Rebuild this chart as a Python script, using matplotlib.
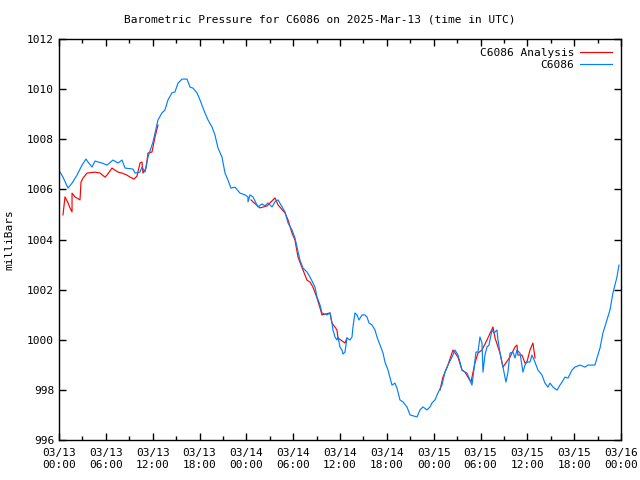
import numpy as np
import matplotlib
matplotlib.use("Agg")
import matplotlib.pyplot as plt
from matplotlib.ticker import MultipleLocator
import datetime as dt

# hours since 2025-03-13 00:00 UTC, pressure in mb
obs_hours = [0.13, 0.51, 1.15, 1.67, 2.31, 2.95, 3.46, 3.72, 4.23, 4.61, 5.51, 6.15, 6.92, 7.56, 8.07, 8.46,
             9.48, 9.74, 10.38, 10.63, 11.02, 11.40, 12.04, 12.68, 13.19, 13.58, 13.96, 14.48, 14.86, 15.24,
             15.76, 16.40, 16.78, 17.17, 17.68, 18.06, 18.70, 19.09, 19.60, 19.98, 20.37, 20.88, 21.27, 21.65,
             22.03, 22.55, 23.19, 23.83, 24.21, 24.21, 24.47, 24.85, 25.49, 26.01, 26.39, 26.77, 27.29, 27.67,
             28.06, 28.57, 28.95, 29.34, 29.85, 30.23, 30.49, 30.87, 31.26, 31.77, 32.16, 32.54, 32.80, 33.05,
             33.44, 33.69, 34.33, 34.72, 34.97, 35.10, 35.36, 35.61, 35.74, 36.00, 36.25, 36.38, 36.64, 36.89,
             37.28, 37.54, 37.66, 37.92, 38.18, 38.43, 38.82, 39.20, 39.46, 39.71, 40.10, 40.48, 40.74, 41.12,
             41.51, 41.76, 42.15, 42.66, 43.04, 43.30, 43.68, 44.07, 44.58, 44.97, 45.86, 46.25, 46.63, 47.14,
             47.53, 47.78, 48.17, 48.55, 49.06, 49.45, 49.83, 50.35, 50.73, 51.11, 51.37, 51.63, 52.01, 52.27,
             52.65, 52.91, 53.04, 53.42, 53.68, 53.93, 54.19, 54.32, 54.57, 54.83, 55.09, 55.47, 55.73, 56.11,
             56.24, 56.50, 56.88, 57.26, 57.52, 57.78, 58.16, 58.42, 58.67, 59.06, 59.44, 59.70, 59.95, 60.34,
             60.59, 60.98, 61.36, 61.88, 62.26, 62.64, 62.90, 63.29, 63.80, 64.18, 64.44, 64.82, 65.21, 65.72,
             66.10, 66.74, 67.38, 67.77, 68.66, 68.92, 69.31, 69.69, 70.20, 70.59, 70.97, 71.48, 71.74]
obs_mb = [1006.69, 1006.49, 1006.05, 1006.25, 1006.57, 1006.97, 1007.21, 1007.09, 1006.89, 1007.13, 1007.05,
          1006.97, 1007.17, 1007.05, 1007.17, 1006.85, 1006.81, 1006.65, 1006.69, 1006.89, 1006.69, 1007.29,
          1007.89, 1008.77, 1009.05, 1009.17, 1009.57, 1009.85, 1009.89, 1010.24, 1010.40, 1010.40, 1010.08,
          1010.04, 1009.85, 1009.57, 1009.05, 1008.77, 1008.49, 1008.17, 1007.65, 1007.29, 1006.65, 1006.37,
          1006.05, 1006.09, 1005.85, 1005.78, 1005.70, 1005.50, 1005.78, 1005.70, 1005.30, 1005.42, 1005.34,
          1005.46, 1005.30, 1005.50, 1005.58, 1005.30, 1005.10, 1004.66, 1004.38, 1004.06, 1003.70, 1003.18,
          1002.86, 1002.70, 1002.50, 1002.26, 1002.10, 1001.71, 1001.39, 1001.07, 1000.99, 1001.07, 1000.67,
          1000.39, 1000.11, 999.99, 1000.11, 999.71, 999.59, 999.43, 999.51, 1000.07, 999.99, 1000.11, 1000.51,
          1001.07, 1000.99, 1000.79, 1000.99, 1000.99, 1000.91, 1000.67, 1000.59, 1000.39, 1000.11, 999.79,
          999.47, 999.11, 998.79, 998.19, 998.27, 998.07, 997.60, 997.52, 997.32, 997.00, 996.92, 997.20,
          997.32, 997.20, 997.32, 997.48, 997.60, 997.88, 998.19, 998.71, 998.99, 999.31, 999.59, 999.39,
          999.11, 998.79, 998.71, 998.67, 998.39, 998.19, 998.51, 999.51, 999.51, 1000.11, 999.87, 998.71,
          999.39, 999.71, 999.79, 1000.39, 1000.27, 1000.39, 999.99, 999.47, 998.91, 998.31, 998.71, 999.47,
          999.51, 999.27, 999.59, 999.47, 998.71, 998.99, 999.11, 999.11, 999.39, 999.11, 998.79, 998.59,
          998.27, 998.11, 998.27, 998.11, 997.99, 998.19, 998.31, 998.51, 998.47, 998.79, 998.91, 998.99,
          998.91, 998.99, 998.99, 999.27, 999.67, 1000.27, 1000.79, 1001.19, 1001.87, 1002.50, 1002.98]

# analysis series (NaN = gap)
ana_hours = [0.51, 0.77, 1.15, 1.41, 1.67, 1.67, 2.05, 2.69, 2.82, 3.07, 3.59, 4.61, 5.25, 5.89, 6.15, 6.79,
             7.17, 7.56, 8.07, 8.71, 9.10, 9.61, 9.99, 10.38, 10.63, 10.76, 11.15, 11.40, 11.91, 12.30, 12.68,
             np.nan,
             24.60, 24.85, 25.75, 26.65, 27.67, 28.06, 28.95, 29.34, 29.85, 30.23, 30.62, 31.26, 31.77, 32.16,
             32.54, 33.05, 33.44, 33.69, 34.72, 34.97, 35.61, 35.74, 36.64, 36.89,
             np.nan,
             48.81, 49.19, 49.83, 50.47, 51.11, 51.63, 52.01, 52.78, 53.29, 53.68, 54.19, 54.83, 55.60, 55.86,
             56.50, 56.88, 57.78, 58.42, 58.67, 58.80, 59.31, 59.70, 59.95, 60.34, 60.72, 60.98]
ana_mb = [1004.98, 1005.70, 1005.46, 1005.26, 1005.10, 1005.85, 1005.70, 1005.58, 1006.29, 1006.45, 1006.65,
          1006.69, 1006.65, 1006.49, 1006.57, 1006.85, 1006.77, 1006.69, 1006.65, 1006.57, 1006.49, 1006.41,
          1006.53, 1007.05, 1007.09, 1006.65, 1006.85, 1007.45, 1007.49, 1008.09, 1008.57,
          np.nan,
          1005.58, 1005.50, 1005.26, 1005.34, 1005.66, 1005.38, 1005.06, 1004.78, 1004.26, 1003.98, 1003.30,
          1002.78, 1002.38, 1002.30, 1002.10, 1001.67, 1001.27, 1000.99, 1001.07, 1000.67, 1000.39, 1000.07,
          999.87, 1000.07,
          np.nan,
          997.99, 998.51, 998.99, 999.59, 999.31, 998.79, 998.71, 998.31, 999.07, 999.47, 999.59, 999.99,
          1000.51, 1000.07, 999.47, 998.91, 999.31, 999.71, 999.79, 999.39, 999.39, 999.07, 999.11, 999.59,
          999.87, 999.27]

start = dt.datetime(2025, 3, 13, 0, 0)
tick_hours = list(range(0, 73, 6))
tick_labels = [(start + dt.timedelta(hours=h)).strftime("%m/%d\n%H:%M") for h in tick_hours]
y_ticks = list(range(996, 1013, 2))

plt.rcParams['font.family'] = ['DejaVu Sans Mono']
fig = plt.figure(figsize=(6.4, 4.8), dpi=100)
ax = fig.add_axes([59/640, 40/480, 562/640, 401/480])

ax.plot(ana_hours, ana_mb, color='#ff0000', lw=0.85, label='C6086 Analysis')
ax.plot(obs_hours, obs_mb, color='#0080ff', lw=0.85, label='C6086')

ax.set_xlim(0, 72)
ax.set_ylim(996, 1012)
ax.set_xticks(tick_hours)
ax.set_xticklabels(tick_labels, fontsize=8)
ax.xaxis.set_minor_locator(MultipleLocator(3))
ax.set_yticks(y_ticks)
ax.set_yticklabels([str(v) for v in y_ticks], fontsize=8)
ax.tick_params(which='both', direction='in', top=True, right=True, width=1)
ax.tick_params(which='major', length=5)
ax.tick_params(which='minor', length=3)
ax.tick_params(axis='x', pad=6)
for s in ax.spines.values():
    s.set_linewidth(1.0)

ax.set_ylabel('milliBars', fontsize=8, labelpad=9)
fig.text(0.5, 1 - 19/480, 'Barometric Pressure for C6086 on 2025-Mar-13 (time in UTC)',
         ha='center', va='center', fontsize=8)

leg = ax.legend(loc='upper right', frameon=False, fontsize=8, markerfirst=False,
                handlelength=2.9, handletextpad=0.5, borderaxespad=0.3, labelspacing=0.15,
                borderpad=0.5)
for t in leg.get_texts():
    t.set_ha('right')

fig.savefig('out.png', dpi=100)
